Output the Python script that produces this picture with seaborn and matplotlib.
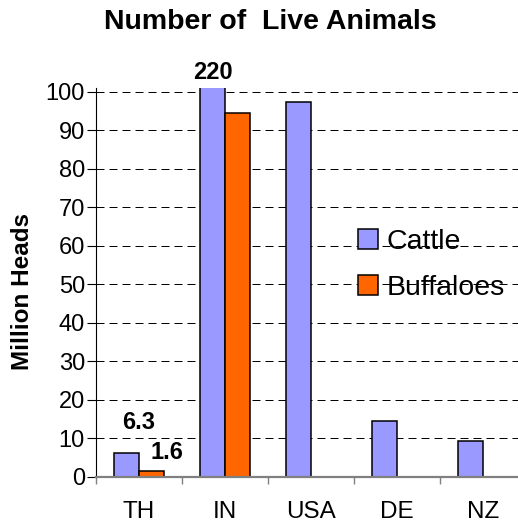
import numpy as np
import pandas as pd
import seaborn as sns
from matplotlib import pyplot as plt

countries = ['TH', 'IN', 'USA', 'DE', 'NZ']
animals = ['Cattle', 'Buffaloes']
cattle = [6.3, 220, 97.4, 14.5, 9.3]
buffaloes = [1.6, 94.5, np.nan, np.nan, np.nan]
value_labels = {('Cattle', 'TH'): '6.3', ('Buffaloes', 'TH'): '1.6', ('Cattle', 'IN'): '220'}

df = pd.DataFrame({
    'country': countries * 2,
    'animal': ['Cattle'] * len(countries) + ['Buffaloes'] * len(countries),
    'heads': cattle + buffaloes,
})

sns.set_theme(style='white')
plt.rcParams['font.family'] = ['Liberation Sans', 'DejaVu Sans']
plt.rc('text', color='black')
plt.rc('axes', labelcolor='black')
plt.rc('xtick', color='black', labelcolor='black')
plt.rc('ytick', color='black', labelcolor='black')

fig = plt.figure(figsize=(5.18, 5.28), dpi=100)
ax = fig.add_axes([0.1853, 0.0966, 0.830, 0.7367])

sns.barplot(data=df, x='country', y='heads', hue='animal', order=countries, hue_order=animals,
            palette=['#9999FF', '#FF6600'], width=0.58, gap=0, saturation=1,
            edgecolor='black', linewidth=1.1, errorbar=None, ax=ax)

ax.set_xlim(-0.5, 4.5)
ax.set_ylim(0, 101)
ax.set_yticks(np.arange(0, 101, 10))
ax.set_xlabel('')

# grid + spines
ax.set_axisbelow(True)
ax.yaxis.grid(True, color='black', linewidth=0.72, linestyle=(0, (8, 5)))
ax.xaxis.grid(False)
for s in ['top', 'right']:
    ax.spines[s].set_visible(False)
ax.spines['left'].set_color('black')
ax.spines['left'].set_linewidth(0.8)
ax.spines['bottom'].set_color('#808080')
ax.spines['bottom'].set_linewidth(1.6)

# ticks
ax.tick_params(axis='y', which='major', direction='out', length=6.5, width=0.8,
               color='black', labelcolor='black', pad=1.5, labelsize=17, left=True)
ax.set_xticks(np.arange(-0.5, 5, 1), minor=True)
ax.tick_params(axis='x', which='major', length=0, pad=17, labelsize=17.5, labelcolor='black')
ax.tick_params(axis='x', which='minor', direction='out', length=5, width=1,
               color='#808080', bottom=True)

# value labels
offsets = {('Cattle', 'TH'): (9, 21.6), ('Buffaloes', 'TH'): (11.5, 13)}
for cont, animal in zip(ax.containers, animals):
    for bar in cont:
        h = bar.get_height()
        if np.isnan(h):
            continue
        cx = bar.get_x() + bar.get_width() / 2
        key = (animal, countries[int(round(cx))])
        if key not in value_labels:
            continue
        if h > ax.get_ylim()[1]:
            ax.annotate(value_labels[key], xy=(cx, 1), xycoords=('data', 'axes fraction'),
                        xytext=(0, 11), textcoords='offset points', ha='center', va='center',
                        fontsize=17, fontweight='bold', color='black', annotation_clip=False)
        else:
            ax.annotate(value_labels[key], xy=(cx, h), xytext=offsets[key],
                        textcoords='offset points', ha='center', va='center',
                        fontsize=17, fontweight='bold', color='black')

leg = ax.legend(loc='center left', bbox_to_anchor=(0.691, 0.498), bbox_transform=fig.transFigure,
                frameon=False, fontsize=20.5, handlelength=0.7, handleheight=0.7,
                handletextpad=0.32, labelspacing=0.72, borderpad=0, borderaxespad=0,
                labelcolor='black')
for h in leg.legend_handles:
    h.set_edgecolor('black')
    h.set_linewidth(1.1)

ax.set_ylabel('Million Heads', fontsize=17.5, fontweight='bold', va='center', color='black')
ax.yaxis.set_label_coords(23 / 518, 1 - 292 / 528, transform=fig.transFigure)

fig.text(0.521, 0.958, 'Number of  Live Animals', ha='center', va='center',
         fontsize=20.5, fontweight='bold', color='black')

fig.savefig('out.png', dpi=100)
